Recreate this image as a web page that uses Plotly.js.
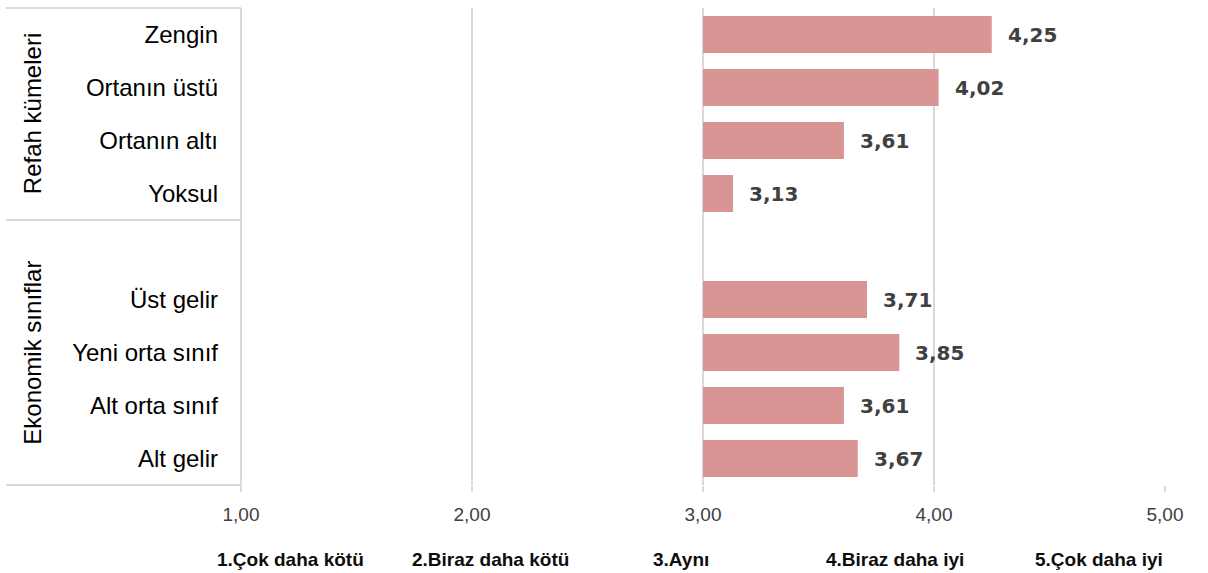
<!DOCTYPE html>
<html><head><meta charset="utf-8">
<script src="https://cdn.plot.ly/plotly-3.0.1.min.js"></script>
<style>html,body{margin:0;padding:0;background:#fff}#chart{width:1208px;height:573px}</style>
</head><body><div id="chart"></div>
<script>
var categories = ["Zengin","Ortanın üstü","Ortanın altı","Yoksul"," ","Üst gelir","Yeni orta sınıf","Alt orta sınıf","Alt gelir"];
var barCategories = ["Zengin","Ortanın üstü","Ortanın altı","Yoksul","Üst gelir","Yeni orta sınıf","Alt orta sınıf","Alt gelir"];
var values = [4.25,4.02,3.61,3.13,3.71,3.85,3.61,3.67];
var baseline = 3;
var tickVals = [1,2,3,4,5];
var tickText = ["1,00","2,00","3,00","4,00","5,00"];
var scaleLabels = ["1.Çok daha kötü","2.Biraz daha kötü","3.Aynı","4.Biraz daha iyi","5.Çok daha iyi"];
var groupLabels = ["Refah kümeleri","Ekonomik sınıflar"];

function fmt(v){return v.toFixed(2).replace('.',',');}

var trace = {
  type:'bar', orientation:'h',
  y: barCategories,
  x: values.map(function(v){return v-baseline;}),
  base: baseline,
  marker:{color:'#D99594'},
  hoverinfo:'none'
};

var plotL = 241, plotW = 924;
var labelCenters = [290, 490, 681, 895, 1099];

var annotations = [];
values.forEach(function(v,i){
  annotations.push({x:v, y:barCategories[i], xref:'x', yref:'y', text:fmt(v), showarrow:false,
    xanchor:'left', xshift:14, font:{family:'DejaVu Sans', size:20, color:'#404040', weight:'bold'}});
});
scaleLabels.forEach(function(t,i){
  annotations.push({x:(labelCenters[i]-plotL)/plotW, y:-0.157, xref:'paper', yref:'paper', text:t, showarrow:false,
    xanchor:'center', yanchor:'middle', font:{family:'Liberation Sans', size:19, color:'#0d0d0d', weight:'bold'}});
});
annotations.push({x:-0.226, y:1-(4/9)/2, xref:'paper', yref:'paper', text:groupLabels[0], textangle:-90, showarrow:false,
  xanchor:'center', yanchor:'middle', font:{family:'Liberation Sans', size:24, color:'#000'}});
annotations.push({x:-0.226, y:(5/9)/2, xref:'paper', yref:'paper', text:groupLabels[1], textangle:-90, showarrow:false,
  xanchor:'center', yanchor:'middle', font:{family:'Liberation Sans', size:24, color:'#000'}});

var lineStyle = {color:'#d9d9d9', width:2};
var x0 = (6-241)/924;
var shapes = [
  {type:'line', xref:'paper', yref:'paper', x0:x0, x1:0, y0:1, y1:1, line:lineStyle},
  {type:'line', xref:'paper', yref:'paper', x0:x0, x1:0, y0:5/9, y1:5/9, line:lineStyle},
  {type:'line', xref:'paper', yref:'paper', x0:x0, x1:0, y0:0, y1:0, line:lineStyle},
  {type:'line', xref:'paper', yref:'paper', x0:0, x1:0, y0:0, y1:1, line:lineStyle}
];

var layout = {
  width:1208, height:573,
  margin:{l:241, r:43, t:8, b:88},
  paper_bgcolor:'#fff', plot_bgcolor:'#fff',
  showlegend:false,
  bargap:0.3,
  xaxis:{range:[1,5], tickvals:tickVals, ticktext:tickText, showgrid:true, gridcolor:'#d9d9d9', gridwidth:2,
    zeroline:false, showline:false, ticks:'outside', ticklen:6, tickcolor:'#d9d9d9', tickwidth:2,
    tickfont:{family:'Liberation Sans', size:19, color:'#404040'}, ticklabelstandoff:6},
  yaxis:{type:'category', categoryarray:categories, categoryorder:'array', autorange:'reversed',
    range:[8.5,-0.5], showgrid:false, zeroline:false, showline:false, ticks:'',
    tickfont:{family:'Liberation Sans', size:24, color:'#000'}, ticklabelstandoff:22},
  annotations:annotations,
  shapes:shapes
};
Plotly.newPlot('chart',[trace],layout,{displayModeBar:false, staticPlot:true});
</script></body></html>
